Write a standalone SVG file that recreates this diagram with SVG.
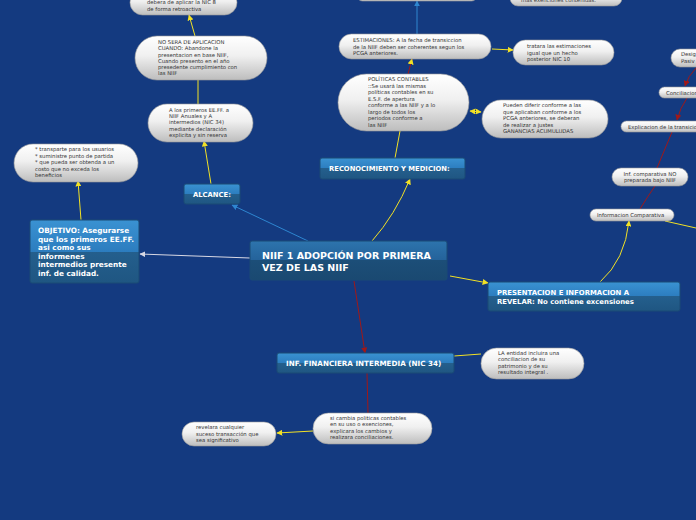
<svg xmlns="http://www.w3.org/2000/svg" width="696" height="520" viewBox="0 0 696 520">
<defs>
<linearGradient id="gn" x1="0" y1="0" x2="0" y2="1">
<stop offset="0" stop-color="#3a92d2"/><stop offset="0.5" stop-color="#2c7dbf"/><stop offset="0.5" stop-color="#245f8d"/><stop offset="1" stop-color="#1f5682"/>
</linearGradient>
<linearGradient id="gm" x1="0" y1="0" x2="0" y2="1">
<stop offset="0" stop-color="#2d74ad"/><stop offset="0.5" stop-color="#24629a"/><stop offset="0.5" stop-color="#1c4e78"/><stop offset="1" stop-color="#1a4971"/>
</linearGradient>
<linearGradient id="gb" x1="0" y1="0" x2="0" y2="1">
<stop offset="0" stop-color="#ffffff"/><stop offset="0.45" stop-color="#f0f0f0"/><stop offset="1" stop-color="#bdbdbd"/>
</linearGradient>
<marker id="ay" viewBox="0 0 10 10" refX="9" refY="5" markerWidth="6" markerHeight="6" orient="auto"><path d="M0,0 L10,5 L0,10 z" fill="#f2e125"/></marker>
<marker id="ays" viewBox="0 0 10 10" refX="1" refY="5" markerWidth="6" markerHeight="6" orient="auto"><path d="M10,0 L0,5 L10,10 z" fill="#f2e125"/></marker>
<marker id="ab" viewBox="0 0 10 10" refX="9" refY="5" markerWidth="6" markerHeight="6" orient="auto"><path d="M0,0 L10,5 L0,10 z" fill="#2e86d0"/></marker>
<marker id="ar" viewBox="0 0 10 10" refX="9" refY="5" markerWidth="6" markerHeight="6" orient="auto"><path d="M0,0 L10,5 L0,10 z" fill="#a01818"/></marker>
<marker id="aw" viewBox="0 0 10 10" refX="9" refY="5" markerWidth="6" markerHeight="6" orient="auto"><path d="M0,0 L10,5 L0,10 z" fill="#d8d8e4"/></marker>
</defs>
<style>
.node rect{fill:url(#gn);stroke:#1a4a75;stroke-width:1}
.main rect{fill:url(#gm)}
.node text{font-family:"DejaVu Sans",sans-serif;font-weight:bold;fill:#fff}
.bub rect{fill:url(#gb);stroke:#9a9a9a;stroke-width:0.6}
.bub text{font-family:"DejaVu Sans",sans-serif;font-size:5.3px;fill:#333}
.y{stroke:#f2e125;stroke-width:1;fill:none}
.b{stroke:#2e86d0;stroke-width:1;fill:none}
.r{stroke:#a01818;stroke-width:1;fill:none}
.w{stroke:#d8d8e4;stroke-width:1;fill:none}
</style>
<rect width="696" height="520" fill="#143a80"/>
<g id="connectors">
<path class="b" d="M308,241 L232,205" marker-end="url(#ab)"/>
<path class="w" d="M250,258 L140,254" marker-end="url(#aw)"/>
<path class="y" d="M372,241 Q395,215 410,179" marker-end="url(#ay)"/>
<path class="y" d="M450,276 L488,283" marker-end="url(#ay)"/>
<path class="r" d="M354,281 L365,353" marker-end="url(#ar)"/>
<path class="y" d="M81,220 L78,181" marker-end="url(#ay)"/>
<path class="y" d="M211,184 L204,141" marker-end="url(#ay)"/>
<path class="y" d="M198,104 L198,80"/>
<path class="y" d="M195,36 L189,15" marker-end="url(#ay)"/>
<path class="y" d="M395,158 L400,131"/>
<path class="r" d="M408,74 L412,59" marker-end="url(#ay)"/>
<path class="b" d="M417,34 L417,1" marker-end="url(#ab)"/>
<path class="y" d="M492,49 L513,50" marker-end="url(#ay)"/>
<path class="y" d="M470,111 L481,112" marker-start="url(#ays)" marker-end="url(#ay)"/>
<path class="y" d="M600,282 Q625,260 629,221" marker-end="url(#ay)"/>
<path class="y" d="M665,221 L696,228"/>
<path class="r" d="M640,209 Q648,196 655,186"/>
<path class="r" d="M657,168 L672,132"/>
<path class="r" d="M687,98 Q680,108 677,120" marker-end="url(#ar)"/>
<path class="r" d="M696,68 Q688,76 685,86" marker-end="url(#ar)"/>
<path class="y" d="M454,356 L481,354"/>
<path class="r" d="M367,373 L368,413"/>
<path class="y" d="M313,431 L277,433" marker-end="url(#ay)"/>
</g>
<g id="main" class="node main"><rect x="250" y="241" width="197" height="39" rx="2"/><text font-size="9.5"><tspan x="262" y="259">NIIF 1 ADOPCIÓN POR PRIMERA</tspan><tspan x="262" y="271">VEZ DE LAS NIIF</tspan></text></g>
<g id="objetivo" class="node"><rect x="30" y="220" width="109" height="63" rx="2"/><text font-size="7.3"><tspan x="38" y="233">OBJETIVO: Asegurarse</tspan><tspan x="38" y="242">que los primeros EE.FF.</tspan><tspan x="38" y="250">asi como sus</tspan><tspan x="38" y="259">informenes</tspan><tspan x="38" y="267">intermedios presente</tspan><tspan x="38" y="276">inf. de calidad.</tspan></text></g>
<g id="alcance" class="node"><rect x="184" y="184" width="56" height="20" rx="2"/><text font-size="6.8" x="193" y="197">ALCANCE:</text></g>
<g id="reconocimiento" class="node"><rect x="320" y="158" width="145" height="21" rx="2"/><text font-size="6.8" x="329" y="171">RECONOCIMIENTO Y MEDICION:</text></g>
<g id="intermedia" class="node"><rect x="277" y="353" width="177" height="20" rx="2"/><text font-size="7.2" x="286" y="366">INF. FINANCIERA INTERMEDIA (NIC 34)</text></g>
<g id="presentacion" class="node"><rect x="488" y="282" width="192" height="29" rx="2"/><text font-size="6.9"><tspan x="497" y="295">PRESENTACION E INFORMACION A</tspan><tspan x="497" y="304">REVELAR:  No contiene excensiones</tspan></text></g>
<g id="b-nic8" class="bub"><rect x="130" y="-10" width="107" height="25" rx="12.5"/><text><tspan x="147" y="4">debera de aplicar la NIC 8</tspan><tspan x="147" y="11">de forma retroactiva</tspan></text></g>
<g id="b-nosera" class="bub"><rect x="135" y="36" width="132" height="44" rx="22"/><text><tspan x="158" y="44">NO SERA DE APLICACION</tspan><tspan x="158" y="50">CUANDO:  Abandone la</tspan><tspan x="158" y="57">presentacion en base NIIF,</tspan><tspan x="158" y="63">Cuando presento en el año</tspan><tspan x="158" y="69">presedente cumplimiento con</tspan><tspan x="158" y="75">las NIIF</tspan></text></g>
<g id="b-primeros" class="bub"><rect x="148" y="104" width="105" height="38" rx="19"/><text><tspan x="169" y="112">A los primeros EE.FF. a</tspan><tspan x="169" y="118">NIIF Anuales  y   A</tspan><tspan x="169" y="124">intermedios (NIC 34)</tspan><tspan x="169" y="131">mediante declaración</tspan><tspan x="169" y="137">explicita y sin reserva</tspan></text></g>
<g id="b-transparte" class="bub"><rect x="14" y="144" width="124" height="38" rx="19"/><text><tspan x="35" y="151">* transparte para los usuarios</tspan><tspan x="35" y="158">* suministre punto de partida</tspan><tspan x="35" y="164">* que pueda ser obtenda a un</tspan><tspan x="35" y="171">costo que no exceda los</tspan><tspan x="35" y="177">beneficios</tspan></text></g>
<g id="b-top" class="bub"><rect x="357" y="-10" width="120" height="11" rx="5.5"/></g>
<g id="b-exenciones" class="bub"><rect x="510" y="-10" width="112" height="16" rx="8"/><text x="521" y="2">mas exenciones contenidas.</text></g>
<g id="b-estimaciones" class="bub"><rect x="339" y="34" width="152" height="25" rx="12.5"/><text><tspan x="353" y="42">ESTIMACIONES:  A la fecha de transiccion</tspan><tspan x="353" y="49">de la NIIF deben ser coherentes segun los</tspan><tspan x="353" y="55">PCGA anteriores.</tspan></text></g>
<g id="b-tratara" class="bub"><rect x="513" y="40" width="101" height="25" rx="12.5"/><text><tspan x="527" y="48">tratara las estimaciones</tspan><tspan x="527" y="55">igual que un hecho</tspan><tspan x="527" y="61">posterior NIC 10</tspan></text></g>
<g id="b-politicas" class="bub"><rect x="338" y="74" width="131" height="57" rx="28.5"/><text><tspan x="368" y="81">POLÍTICAS CONTABLES</tspan><tspan x="368" y="88">::Se usará las mismas</tspan><tspan x="368" y="94">políticas contables en su</tspan><tspan x="368" y="101">E.S.F. de apertura</tspan><tspan x="368" y="107">conforme a las NIIF y a lo</tspan><tspan x="368" y="114">largo de todos los</tspan><tspan x="368" y="120">periodos  conforme a</tspan><tspan x="368" y="127">las NIIF</tspan></text></g>
<g id="b-pueden" class="bub"><rect x="482" y="100" width="126" height="38" rx="19"/><text><tspan x="503" y="107">Pueden diferir conforme a las</tspan><tspan x="503" y="114">que aplicaban conforme a los</tspan><tspan x="503" y="120">PCGA anteriores, se deberan</tspan><tspan x="503" y="127">de realizar a justes</tspan><tspan x="503" y="133">GANANCIAS ACUMULUDAS</tspan></text></g>
<g id="b-entidad" class="bub"><rect x="481" y="348" width="103" height="31" rx="15.5"/><text><tspan x="498" y="355">LA entidad incluira una</tspan><tspan x="498" y="361">conciliacion  de su</tspan><tspan x="498" y="368">patrimonio y de su</tspan><tspan x="498" y="374">resultado integral .</tspan></text></g>
<g id="b-cambia" class="bub"><rect x="313" y="413" width="119" height="31" rx="15.5"/><text><tspan x="330" y="420">si cambia politicas contables</tspan><tspan x="330" y="426">en su uso o exenciones,</tspan><tspan x="330" y="433">explicara los cambios y</tspan><tspan x="330" y="439">realizara conciliaciones.</tspan></text></g>
<g id="b-revelara" class="bub"><rect x="182" y="422" width="94" height="24" rx="12"/><text><tspan x="196" y="429">revelara cualquier</tspan><tspan x="196" y="436">suceso transacción que</tspan><tspan x="196" y="442">sea significativo</tspan></text></g>
<g id="b-desig" class="bub"><rect x="671" y="49" width="40" height="18" rx="9"/><text><tspan x="681" y="56">Desig</tspan><tspan x="681" y="63">Pasiv</tspan></text></g>
<g id="b-conciliacion" class="bub"><rect x="659" y="87" width="50" height="11" rx="5.5"/><text x="666" y="95">Conciliacion</text></g>
<g id="b-explicacion" class="bub"><rect x="621" y="121" width="90" height="11" rx="5.5"/><text x="628" y="129">Explicacion de la transicion</text></g>
<g id="b-infno" class="bub"><rect x="612" y="168" width="76" height="18" rx="9"/><text text-anchor="middle"><tspan x="650" y="176">Inf. comparativa NO</tspan><tspan x="650" y="182">preparada bajo NIIF</tspan></text></g>
<g id="b-infcomp" class="bub"><rect x="590" y="209" width="84" height="12" rx="6"/><text x="597" y="217">Informacion Comparativa</text></g>
</svg>
